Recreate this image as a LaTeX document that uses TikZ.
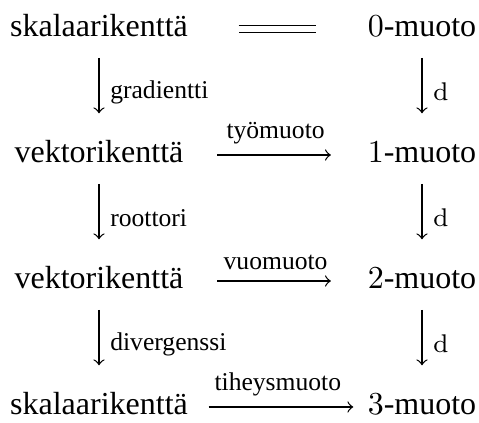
\documentclass[tikz,border=0pt]{standalone}
\usepackage[no-math]{fontspec}
\setmainfont{Liberation Serif}
\begin{document}
\begin{tikzpicture}[x=0.3125pt,y=-0.3125pt,
  obj/.style={anchor=base,text height=7pt,text depth=2pt},
  lbl/.style={font=\footnotesize}]
\useasboundingbox (0,0) rectangle (479,423);

\node[obj] (s0) at (99,37) {skalaarikenttä};
\node[obj] (f0) at (422,37) {$0$-muoto};
\node[obj] (v1) at (99,163) {vektorikenttä};
\node[obj] (f1) at (422,163) {$1$-muoto};
\node[obj] (v2) at (99,289) {vektorikenttä};
\node[obj] (f2) at (422,289) {$2$-muoto};
\node[obj] (s3) at (99,415) {skalaarikenttä};
\node[obj] (f3) at (422,415) {$3$-muoto};

\draw[double,double distance=1.7pt,line width=0.5pt,shorten <=12.3pt,shorten >=12.7pt] (s0) -- (f0);

\draw[->,shorten <=1pt,shorten >=5pt] (s0) -- node[lbl,right] {gradientti} (v1);
\draw[->,shorten <=1pt,shorten >=5pt] (v1) -- node[lbl,right] {roottori} (v2);
\draw[->,shorten <=1pt,shorten >=5pt] (v2) -- node[lbl,right] {divergenssi} (s3);

\draw[->,shorten <=1pt,shorten >=5pt] (f0) -- node[lbl,right] {$\mathrm{d}$} (f1);
\draw[->,shorten <=1pt,shorten >=5pt] (f1) -- node[lbl,right] {$\mathrm{d}$} (f2);
\draw[->,shorten <=1pt,shorten >=5pt] (f2) -- node[lbl,right] {$\mathrm{d}$} (f3);

\draw[->,shorten <=7pt,shorten >=8pt] (v1) -- node[lbl,above] {työmuoto} (f1);
\draw[->,shorten <=7pt,shorten >=8pt] (v2) -- node[lbl,above] {vuomuoto} (f2);
\draw[->,shorten <=3pt,shorten >=1pt] (s3) -- node[lbl,above] {tiheysmuoto} (f3);

\end{tikzpicture}
\end{document}
